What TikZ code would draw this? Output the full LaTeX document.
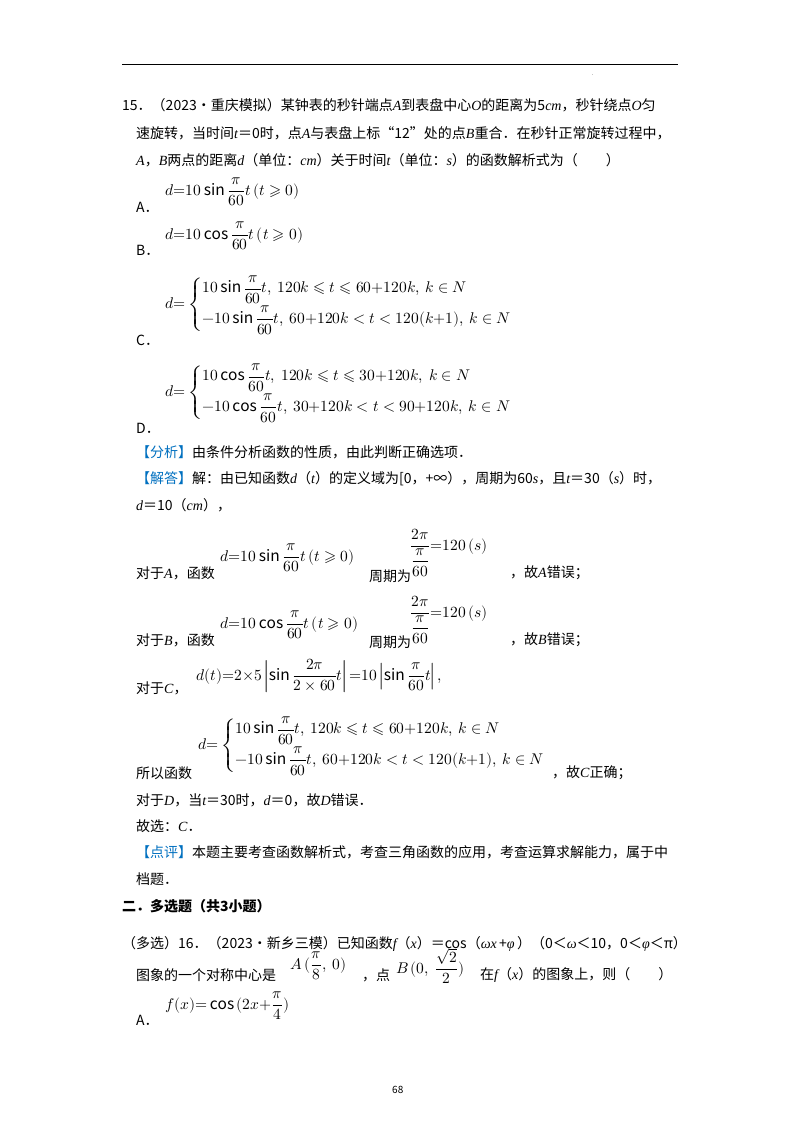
\documentclass[tikz,border=0pt]{standalone}
\usepackage{amsmath}
\usepackage{fontspec}
\usepackage{unicode-math}
\setmainfont{Noto Sans CJK SC}
\setmathfont{Latin Modern Math}
\newfontfamily\myserif{Liberation Serif}
\newcommand{\I}[1]{{\myserif\itshape #1}\,}
\newcommand{\J}[1]{{\myserif\itshape #1}}
\definecolor{hl}{RGB}{0,112,192}
\begin{document}
\begin{tikzpicture}[x=1pt,y=-1pt,
  t/.style={anchor=west,inner sep=0pt,font=\fontsize{14}{17}\selectfont},
  fm/.style={anchor=west,inner sep=0pt,font=\fontsize{15.5}{18}\selectfont}]
\useasboundingbox[fill=white] (0,0) rectangle (800,1132);
\draw[line width=0.8pt] (122,64) -- (678,64);
\node[t,font=\tiny] at (592,75) {.};
\node[t] (l1) at (122,105) {15．（2023•重庆模拟）某钟表的秒针端点\J{A}到表盘中心\J{O}的距离为5\J{cm}，秒针绕点\J{O}匀};
\node[t] (l2) at (136,133) {速旋转，当时间\J{t}＝0时，点\J{A}与表盘上标“12”处的点\J{B}重合．在秒针正常旋转过程中，};
\node[t] (l3) at (136,160) {\J{A}，\J{B}两点的距离\J{d}（单位：\J{cm}）关于时间\J{t}（单位：\J{s}）的函数解析式为（　　）};
\node[t] (oa) at (136,207) {A．};
\node[fm] (fa) at (165,192) {$d{=}10\sin\dfrac{\pi}{60}t\,(t\geqslant0)$};
\node[t] (ob) at (136,250) {B．};
\node[fm] (fb) at (165,236) {$d{=}10\cos\dfrac{\pi}{60}t\,(t\geqslant0)$};
\node[t] (oc) at (136,340) {C．};
\node[fm] (fc) at (165,305) {$d{=}\begin{cases}10\sin\dfrac{\pi}{60}t,\ 120k\leqslant t\leqslant60{+}120k,\ k\in N\\[7pt]-10\sin\dfrac{\pi}{60}t,\ 60{+}120k<t<120(k{+}1),\ k\in N\end{cases}$};
\node[t] (od) at (136,428) {D．};
\node[fm] (fd) at (165,393) {$d{=}\begin{cases}10\cos\dfrac{\pi}{60}t,\ 120k\leqslant t\leqslant30{+}120k,\ k\in N\\[7pt]-10\cos\dfrac{\pi}{60}t,\ 30{+}120k<t<90{+}120k,\ k\in N\end{cases}$};
\node[t] (an) at (136,452) {\textcolor{hl}{【分析】}由条件分析函数的性质，由此判断正确选项．};
\node[t] (jd) at (136,479) {\textcolor{hl}{【解答】}解：由已知函数\J{d}（\J{t}）的定义域为[0，+∞），周期为60\J{s}，且\J{t}＝30（\J{s}）时，};
\node[t] (d10) at (136,505) {\J{d}＝10（\J{cm}），};
\node[t] (ya) at (136,573) {对于\J{A}，函数};
\node[fm] (ya1) at (220,558) {$d{=}10\sin\dfrac{\pi}{60}t\,(t\geqslant0)$};
\node[t] (ya2) at (369,576) {周期为};
\node[fm] (ya3) at (410,553) {$\dfrac{2\pi}{\dfrac{\pi}{60}}{=}120\,(s)$};
\node[t] (ya4) at (510,573) {，故\J{A}错误；};
\node[t] (yb) at (136,640) {对于\J{B}，函数};
\node[fm] (yb1) at (220,625) {$d{=}10\cos\dfrac{\pi}{60}t\,(t\geqslant0)$};
\node[t] (yb2) at (369,642) {周期为};
\node[fm] (yb3) at (410,620) {$\dfrac{2\pi}{\dfrac{\pi}{60}}{=}120\,(s)$};
\node[t] (yb4) at (510,640) {，故\J{B}错误；};
\node[t] (yc) at (136,688) {对于\J{C}，};
\node[fm] (yc1) at (196,676) {$d(t){=}2{\times}5\left|\sin\dfrac{2\pi}{2\times60}t\right|{=}10\left|\sin\dfrac{\pi}{60}t\right|,$};
\node[t] (sy) at (136,773) {所以函数};
\node[fm] (sy1) at (198,746) {$d{=}\begin{cases}10\sin\dfrac{\pi}{60}t,\ 120k\leqslant t\leqslant60{+}120k,\ k\in N\\[7pt]-10\sin\dfrac{\pi}{60}t,\ 60{+}120k<t<120(k{+}1),\ k\in N\end{cases}$};
\node[t] (sy2) at (552,773) {，故\J{C}正确；};
\node[t] (yd) at (136,800) {对于\J{D}，当\J{t}＝30时，\J{d}＝0，故\J{D}错误．};
\node[t] (gx) at (136,826) {故选：\J{C}．};
\node[t] (dp) at (136,852) {\textcolor{hl}{【点评】}本题主要考查函数解析式，考查三角函数的应用，考查运算求解能力，属于中};
\node[t] (dp2) at (136,879) {档题．};
\node[t,font=\fontsize{14}{17}\selectfont\bfseries] (er) at (122,906) {二．多选题（共3小题）};
\node[t] (q16) at (122,944) {（多选）16．（2023•新乡三模）已知函数\J{f}（\J{x}）＝cos（\I{ωx}+\J{φ}\,）（0＜\J{ω}＜10，0＜\J{φ}＜π）};
\node[t] (q16b) at (136,975) {图象的一个对称中心是};
\node[fm] (q16c) at (290,966) {$A\,(\dfrac{\pi}{8},\ 0)$};
\node[t] (q16d) at (362,975) {，点};
\node[fm] (q16e) at (396,966) {$B\,(0,\ \dfrac{\sqrt2}{2})$};
\node[t] (q16f) at (480,975) {在\J{f}（\J{x}）的图象上，则（　　）};
\node[t] (qa) at (136,1020) {A．};
\node[fm] (qa1) at (165,1006) {$f(x){=}\cos\,(2x{+}\dfrac{\pi}{4})$};
\node[t,font=\fontsize{10}{12}\selectfont] (pg) at (392,1090) {68};
\end{tikzpicture}
\end{document}
